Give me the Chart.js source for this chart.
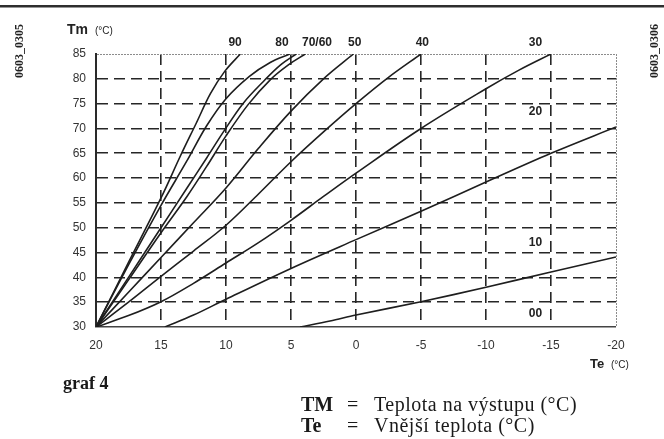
<!DOCTYPE html>
<html lang="cs">
<head>
<meta charset="UTF-8">
<title>graf 4</title>
<script src="https://cdn.jsdelivr.net/npm/chart.js@4.4.1/dist/chart.umd.min.js"></script>
<style>
  html, body { margin: 0; padding: 0; background: #fff; }
  #wrap { position: relative; width: 664px; height: 439px; }
</style>
</head>
<body>
<div id="wrap"><canvas id="graf" width="664" height="439"></canvas></div>
<script>
// hodnoty na osách
const teTicks = [20, 15, 10, 5, 0, -5, -10, -15, -20];
const tmTicks = [30, 35, 40, 45, 50, 55, 60, 65, 70, 75, 80, 85];

// topné křivky: [Te, Tm]
const curve90 = [[20, 30], [17.5, 43], [15, 56], [13.5, 64.5], [12.3, 71], [11.2, 77], [10.1, 81.5], [8.9, 85]];
const curve80 = [[20, 30], [17.5, 42.5], [15, 54.5], [13, 63.5], [11.5, 70.5], [10, 76], [8.2, 80.5], [6.6, 83.3], [5.1, 85]];
const curve70 = [[20, 30], [17.5, 40], [15, 50], [13, 58], [11.5, 64], [10.2, 69.3], [8.7, 75], [7, 79.8], [5.8, 82.8], [4.6, 85]];
const curve60 = [[20, 30], [17.5, 39.5], [15, 49], [13, 56.3], [11.5, 62.3], [10, 68.5], [8.3, 74.8], [6.6, 79.8], [5.2, 82.8], [3.9, 85]];
const curve50 = [[20, 30], [17.5, 37], [15, 44], [12.5, 51], [10, 58], [7.5, 66], [5, 73.5], [2.5, 80], [0.2, 85]];
const curve40 = [[20, 30], [17.5, 35], [15, 40.2], [12.5, 45.3], [10, 50.5], [7.5, 56.8], [5, 63.3], [2.5, 69.3], [0, 75], [-2.5, 80.3], [-5, 85]];
const curve30 = [[20, 30], [17.5, 32.3], [15, 35.1], [12.5, 38.8], [10, 42.9], [7.5, 47], [5, 51.5], [2.5, 56.3], [0, 61], [-5, 70], [-10, 78], [-12.5, 81.7], [-15, 85]];
const curve20 = [[14.7, 30], [12.5, 32.4], [10, 35.6], [5, 41.8], [0, 47.6], [-5, 53.3], [-10, 59.2], [-15, 65], [-20, 70.3]];
const curve10 = [[4.3, 30], [2, 31.2], [0, 32.4], [-5, 35.1], [-10, 38], [-15, 41.1], [-20, 44.1]];

// čísla křivek a kde stojí (Te, Tm)
const curveLabels = ['90', '80', '70/60', '50', '40', '30', '20', '10', '00'];
const labelTe = [9.3, 5.7, 3.0, 0.1, -5.1, -13.8, -13.8, -13.8, -13.8];
const labelTm = [87.2, 87.2, 87.2, 87.2, 87.2, 87.2, 73.3, 46.9, 32.6];

const allCurves = [curve90, curve80, curve70, curve60, curve50, curve40, curve30, curve20, curve10];

const SANS = '"Liberation Sans", Arial, sans-serif';
const SERIF = '"Liberation Serif", "DejaVu Serif", serif';

// texty okolo grafu
const extraText = {
    id: 'extraText',
    afterDraw(chart) {
        const { ctx, scales: { x, y } } = chart;
        ctx.save();

        // linka nahoře
        ctx.fillStyle = '#2e2e2e';
        ctx.fillRect(0, 5, 664, 2.5);

        // čísla křivek
        ctx.fillStyle = '#222';
        ctx.font = 'bold 12px ' + SANS;
        ctx.textAlign = 'center';
        ctx.textBaseline = 'middle';
        curveLabels.forEach((t, i) => {
            ctx.fillText(t, x.getPixelForValue(labelTe[i]), y.getPixelForValue(labelTm[i]));
        });

        // názvy os
        ctx.textAlign = 'left';
        ctx.textBaseline = 'alphabetic';
        ctx.fillStyle = '#222';
        ctx.font = 'bold 14px ' + SANS;
        ctx.fillText('Tm', 67, 34);
        ctx.font = 'bold 13px ' + SANS;
        ctx.fillText('Te', 590, 368);
        ctx.font = '10px ' + SANS;
        ctx.fillText('(°C)', 95, 34);
        ctx.fillText('(°C)', 611, 368);

        // svislé kódy po stranách
        ctx.font = 'bold 12px ' + SERIF;
        ctx.textAlign = 'center';
        ctx.textBaseline = 'middle';
        [[20, 51, '0603_0305'], [655, 51, '0603_0306']].forEach(([px, py, t]) => {
            ctx.save();
            ctx.translate(px, py);
            ctx.rotate(-Math.PI / 2);
            ctx.fillText(t, 0, 0);
            ctx.restore();
        });

        // popis pod grafem
        ctx.textAlign = 'left';
        ctx.textBaseline = 'alphabetic';
        ctx.fillStyle = '#1a1a1a';
        ctx.font = 'bold 18px ' + SERIF;
        ctx.fillText('graf 4', 63, 389);

        ctx.font = 'bold 20px ' + SERIF;
        ctx.fillText('TM', 301, 411);
        ctx.fillText('Te', 301, 432);
        ctx.font = '20px ' + SERIF;
        ctx.fillText('=', 347, 411);
        ctx.fillText('=', 347, 432);
        ctx.letterSpacing = '0.5px';
        ctx.fillText('Teplota na výstupu (°C)', 374, 411);
        ctx.fillText('Vnější teplota (°C)', 374, 432);

        ctx.restore();
    }
};

const gridColor = (edge) => (c) => {
    const v = c.tick ? c.tick.value : null;
    if (v === edge) return '#8c8c8c';
    return '#262626';
};
const gridDash = (edge) => (c) => {
    const v = c.tick ? c.tick.value : null;
    if (v === edge) return [2, 1];
    return [11, 6];
};
const gridWidth = (edge, hidden) => (c) => {
    const v = c.tick ? c.tick.value : null;
    if (v === hidden) return 0;
    if (v === edge) return 1;
    return 1.6;
};

new Chart(document.getElementById('graf'), {
    type: 'line',
    data: {
        datasets: allCurves.map(curve => ({
            data: curve.map(([te, tm]) => ({ x: te, y: tm })),
            borderColor: '#1e1e1e',
            borderWidth: 1.6,
            pointRadius: 0,
            tension: 0.35,
            fill: false
        }))
    },
    options: {
        responsive: false,
        animation: false,
        layout: { padding: { left: 0, top: 54, right: 48, bottom: 0 } },
        plugins: { legend: { display: false }, tooltip: { enabled: false } },
        scales: {
            x: {
                type: 'linear',
                reverse: true,
                min: -20,
                max: 20,
                afterFit: s => { s.height = 112; },
                afterBuildTicks: s => { s.ticks = teTicks.map(v => ({ value: v })); },
                ticks: { color: '#333', font: { family: SANS, size: 12 }, padding: 11, maxRotation: 0 },
                grid: { drawTicks: false, color: gridColor(-20), lineWidth: gridWidth(-20, 20) },
                border: { display: true, color: '#444', width: 1.5, dash: gridDash(-20) }
            },
            y: {
                type: 'linear',
                min: 30,
                max: 85,
                afterFit: s => { s.width = 96; },
                afterBuildTicks: s => { s.ticks = tmTicks.map(v => ({ value: v })); },
                ticks: { color: '#333', font: { family: SANS, size: 12 }, padding: 10 },
                grid: { drawTicks: false, color: gridColor(85), lineWidth: gridWidth(85, 30) },
                border: { display: true, color: '#2a2a2a', width: 2, dash: gridDash(85) }
            }
        }
    },
    plugins: [extraText]
});
</script>
</body>
</html>
